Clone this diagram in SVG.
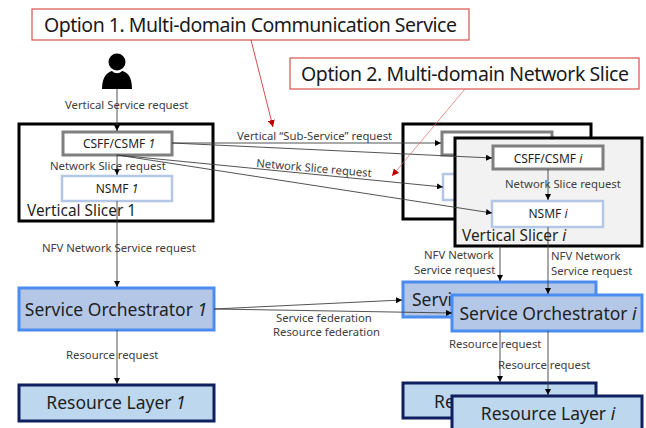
<svg xmlns="http://www.w3.org/2000/svg" width="646" height="428" viewBox="0 0 646 428">
<style>
text{font-family:"Noto Sans","Open Sans","Liberation Sans",sans-serif;fill:#1f1f1f}
.s{font-size:11.3px;fill:#404040}
.n{font-size:12px;text-anchor:middle}
.m{font-size:17.5px;text-anchor:middle}
.o{font-size:19.5px;fill:#1a1a1a}
.v{font-size:15.4px}
.i{font-style:italic}
.opt{fill:#fff;stroke:#d9534f;stroke-width:1.2}
.slicer{stroke:#000;stroke-width:3}
.csf{fill:#fff;stroke:#7f7f7f;stroke-width:3}
.nsm{fill:#fff;stroke:#b4c7e7;stroke-width:2.5}
.so{fill:#b4c7e7;stroke:#4a8cf0;stroke-width:3}
.rl{fill:#bdd7ee;stroke:#0f1f5f;stroke-width:3}
.c{fill:none;stroke:#404040;stroke-width:.9;marker-end:url(#a)}
.r{fill:none;stroke:#c00000;stroke-width:.7;marker-end:url(#b)}
</style>
<defs>
<marker id="a" markerUnits="userSpaceOnUse" markerWidth="6" markerHeight="6" refX="6" refY="3" orient="auto"><path d="M0 0L6 3L0 6z" fill="#000"/></marker>
<marker id="b" markerUnits="userSpaceOnUse" markerWidth="7" markerHeight="7" refX="7" refY="3.5" orient="auto"><path d="M0 0L7 3.5L0 7z" fill="#c00000"/></marker>
</defs>
<rect width="646" height="428" fill="#fff"/>
<g id="user"><circle cx="117" cy="62" r="8.5" fill="#000"/><path d="M102 89C102 76 108 72 112 71C115 74 119 74 122 71C127 72 132 76 132 89Z" fill="#000"/></g>
<g id="slicer-1"><rect class="slicer" x="19" y="124" width="194" height="97" fill="#fff"/><text class="v" x="27" y="216">Vertical Slicer 1</text></g>
<g id="csff-1"><rect class="csf" x="63" y="132" width="109" height="23"/><text class="n" x="119" y="148">CSFF/CSMF <tspan class="i">1</tspan></text></g>
<g id="nsmf-1"><rect class="nsm" x="62" y="176" width="110" height="25"/><text class="n" x="117" y="193">NSMF <tspan class="i">1</tspan></text></g>
<g id="so-1"><rect class="so" x="19" y="288" width="195" height="42"/><text class="m" x="116" y="316">Service Orchestrator <tspan class="i">1</tspan></text></g>
<g id="rl-1"><rect class="rl" x="19" y="385" width="195" height="36"/><text class="m" x="116" y="409">Resource Layer <tspan class="i">1</tspan></text></g>
<g id="slicer-back"><rect class="slicer" x="403" y="124" width="188" height="95" fill="#fff"/></g>
<g id="csff-back"><rect class="csf" x="442" y="132" width="110" height="23"/></g>
<g id="nsmf-back"><rect class="nsm" x="443" y="174" width="40" height="26"/></g>
<g id="so-back"><rect class="so" x="403" y="282" width="193" height="35"/><text class="m" x="412" y="306" style="text-anchor:start">Servi</text></g>
<g id="rl-back"><rect class="rl" x="403" y="383" width="193" height="35"/><text class="m" x="434" y="408" style="text-anchor:start">Re</text></g>
<g id="slicer-i"><rect class="slicer" x="455" y="138" width="187" height="108" fill="#f2f2f2"/><text class="v" x="462" y="241">Vertical Slicer <tspan class="i">i</tspan></text></g>
<g id="csff-i"><rect class="csf" x="493" y="146" width="110" height="23"/><text class="n" x="548" y="163">CSFF/CSMF <tspan class="i">i</tspan></text></g>
<g id="nsmf-i"><rect class="nsm" x="492" y="201" width="111" height="26"/><text class="n" x="548" y="218">NSMF <tspan class="i">i</tspan></text></g>
<g id="so-i"><rect class="so" x="452" y="295" width="190" height="36"/><text class="m" x="548" y="320">Service Orchestrator <tspan class="i">i</tspan></text></g>
<g id="rl-i"><rect class="rl" x="452" y="396" width="190" height="36"/><text class="m" x="548" y="420">Resource Layer <tspan class="i">i</tspan></text></g>
<g id="option-1"><rect class="opt" x="32" y="9" width="437" height="31"/><text class="o" x="44" y="32" textLength="413">Option 1. Multi-domain Communication Service</text></g>
<g id="option-2"><rect class="opt" x="290" y="58" width="349" height="31"/><text class="o" x="301" y="81" textLength="328">Option 2. Multi-domain Network Slice</text></g>
<g id="connectors">
<path class="c" d="M117 89V131"/>
<path class="c" d="M117 155V175"/>
<path class="c" d="M172 143H441"/>
<path class="c" d="M172 143L492 158"/>
<path class="c" d="M117 155L443 187"/>
<path class="c" d="M117 155L492 213"/>
<path class="c" d="M117 201V287"/>
<path class="c" d="M117 330V384"/>
<path class="c" d="M214 309L402 300"/>
<path class="c" d="M214 309L452 313"/>
<path class="c" d="M548 169V200"/>
<path class="c" d="M500 246V281"/>
<path class="c" d="M548 227V294"/>
<path class="c" d="M500 331V382"/>
<path class="c" d="M548 331V395"/>
<path class="r" d="M251 40L273 127"/>
<path class="r" d="M465 89L392 176" style="stroke:#e06666"/>
</g>
<g id="labels">
<text class="s" x="65" y="109">Vertical Service request</text>
<text class="s" x="50" y="170">Network Slice request</text>
<text class="s" x="237" y="140">Vertical “Sub-Service” request</text>
<text class="s" x="256" y="167" transform="rotate(5 256 167)">Network Slice request</text>
<text class="s" x="505" y="188">Network Slice request</text>
<text class="s" x="42" y="252">NFV Network Service request</text>
<text class="s" x="424" y="259">NFV Network</text>
<text class="s" x="414" y="274">Service request</text>
<text class="s" x="551" y="260">NFV Network</text>
<text class="s" x="551" y="275">Service request</text>
<text class="s" x="276" y="322">Service federation</text>
<text class="s" x="273" y="336">Resource federation</text>
<text class="s" x="66" y="359">Resource request</text>
<text class="s" x="449" y="348">Resource request</text>
<text class="s" x="498" y="369">Resource request</text>
</g>
</svg>
